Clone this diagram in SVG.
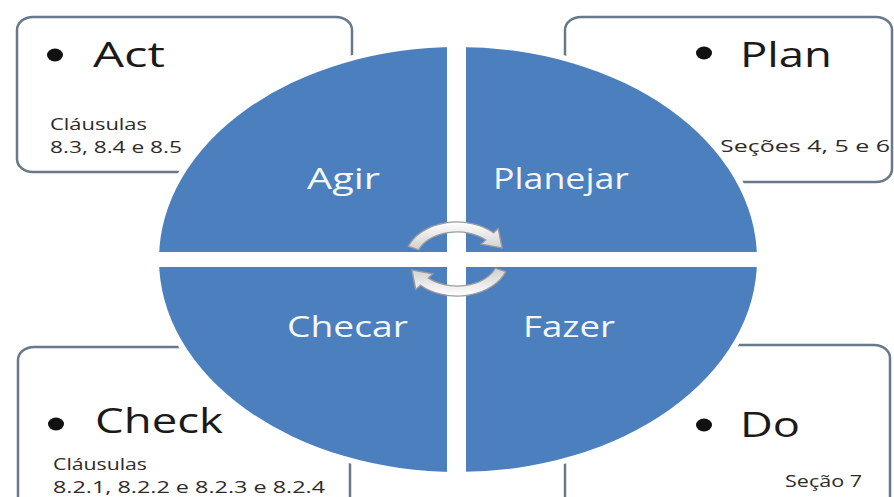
<svg xmlns="http://www.w3.org/2000/svg" width="894" height="497" viewBox="0 0 894 497">
<defs>
<style>
.box{fill:#ffffff;stroke:#67798b;stroke-width:2.5}
.big{font-family:"Open Sans","Liberation Sans",sans-serif;font-size:34px;fill:#1a1a1a}
.bul{fill:#111}
.small{font-family:"Open Sans","Liberation Sans",sans-serif;font-size:17px;fill:#2e2a2a}
.lbl{font-family:"Open Sans","Liberation Sans",sans-serif;font-size:29px;fill:#f4f7fb}
.arr{fill:url(#ag);stroke:#9c9c9c;stroke-width:1.3}
</style>
<linearGradient id="ag" x1="0" y1="0" x2="0" y2="1">
<stop offset="0" stop-color="#ffffff"/>
<stop offset="1" stop-color="#cfcfcf"/>
</linearGradient>
</defs>
<rect width="894" height="497" fill="#ffffff"/>

<g id="node-act">
<rect class="box" x="17" y="17" width="335" height="155" rx="16" ry="13"/>
<ellipse class="bul" cx="55" cy="55" rx="8" ry="6.5"/>
<text class="big" x="93" y="67" textLength="72" lengthAdjust="spacingAndGlyphs">Act</text>
<text class="small" x="50" y="130" textLength="97" lengthAdjust="spacingAndGlyphs">Cláusulas</text>
<text class="small" x="50" y="153" textLength="132" lengthAdjust="spacingAndGlyphs">8.3, 8.4 e 8.5</text>
</g>

<g id="node-plan">
<rect class="box" x="565" y="17" width="327" height="165" rx="16" ry="13"/>
<ellipse class="bul" cx="704" cy="53" rx="8" ry="6.5"/>
<text class="big" x="740" y="67" textLength="92" lengthAdjust="spacingAndGlyphs">Plan</text>
<text class="small" x="720" y="152" textLength="170" lengthAdjust="spacingAndGlyphs">Seções 4, 5 e 6</text>
</g>

<g id="node-check">
<rect class="box" x="18" y="347" width="332" height="170" rx="16" ry="13"/>
<ellipse class="bul" cx="56" cy="424" rx="8" ry="6.5"/>
<text class="big" x="95" y="433" textLength="128" lengthAdjust="spacingAndGlyphs">Check</text>
<text class="small" x="53" y="470" textLength="94" lengthAdjust="spacingAndGlyphs">Cláusulas</text>
<text class="small" x="53" y="493" textLength="272" lengthAdjust="spacingAndGlyphs">8.2.1, 8.2.2 e 8.2.3 e 8.2.4</text>
</g>

<g id="node-do">
<rect class="box" x="565" y="345" width="325" height="170" rx="16" ry="13"/>
<ellipse class="bul" cx="704" cy="425" rx="8" ry="6.5"/>
<text class="big" x="740" y="437" textLength="60" lengthAdjust="spacingAndGlyphs">Do</text>
<text class="small" x="785" y="487" textLength="77" lengthAdjust="spacingAndGlyphs">Seção 7</text>
</g>

<g id="node-cycle">
<ellipse cx="458" cy="259.5" rx="305" ry="218" fill="#ffffff"/>
<ellipse cx="458" cy="259.5" rx="299" ry="212.5" fill="#4c7fbd"/>
<rect x="447" y="40" width="19" height="440" fill="#ffffff"/>
<rect x="150" y="252" width="620" height="15" fill="#ffffff"/>
<text class="lbl" x="307" y="189" textLength="73" lengthAdjust="spacingAndGlyphs">Agir</text>
<text class="lbl" x="493" y="189" textLength="136" lengthAdjust="spacingAndGlyphs">Planejar</text>
<text class="lbl" x="287" y="337" textLength="121" lengthAdjust="spacingAndGlyphs">Checar</text>
<text class="lbl" x="523" y="337" textLength="92" lengthAdjust="spacingAndGlyphs">Fazer</text>
</g>

<g id="connectors" transform="translate(457,259) scale(1.1,1) translate(-457,-259)">
<path class="arr" d="M412.8 246.3 A47 37 0 0 1 490.2 232.8 L494.5 228.6 L498 248 L478.9 244.2 L483.2 239.9 A37 27 0 0 0 422.2 249.8 Z"/>
<path class="arr" transform="rotate(180 457 259)" d="M412.8 246.3 A47 37 0 0 1 490.2 232.8 L494.5 228.6 L498 248 L478.9 244.2 L483.2 239.9 A37 27 0 0 0 422.2 249.8 Z"/>
</g>
</svg>
